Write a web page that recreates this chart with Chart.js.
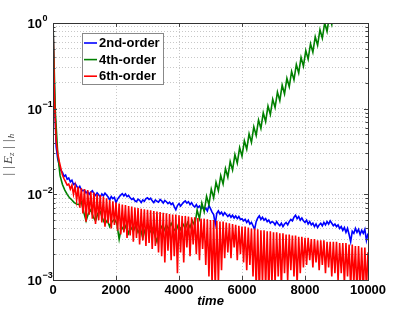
<!DOCTYPE html>
<html>
<head>
<meta charset="utf-8">
<script src="https://cdn.jsdelivr.net/npm/chart.js@4/dist/chart.umd.min.js"></script>
<style>
  html, body { margin: 0; padding: 0; background: #fff; }
  canvas { display: block; }
</style>
</head>
<body>
<canvas id="chart" width="407" height="316"></canvas>
<script>
// time axis: values are sampled every STEP_* time units starting at 0
const STEP_2ND = 50;
const STEP_4TH = 75;
const STEP_6TH = 50;

const seriesNames = ["2nd-order", "4th-order", "6th-order"];
const seriesColors = ["#0000ff", "#008000", "#ff0000"];

const err2nd = [
  1, 0.13, 0.036, 0.026, 0.022, 0.019, 0.018, 0.0162, 0.0168, 0.0150, 0.0155, 0.0140, 0.0146, 0.0130, 0.0134, 0.0125, 0.0117, 0.0124, 0.0113, 0.0110,
  0.0112, 0.0104, 0.0108, 0.0100, 0.0106, 0.0110, 0.0102, 0.0097, 0.0104, 0.0099, 0.0093, 0.0101, 0.0096, 0.0103, 0.0098, 0.0093, 0.0086, 0.0094, 0.0089, 0.0092,
  0.0080, 0.0088, 0.0093, 0.0098, 0.0102, 0.0096, 0.0101, 0.0094, 0.0097, 0.0091, 0.0087, 0.0090, 0.0084, 0.0082, 0.0088, 0.0085, 0.0080, 0.0086, 0.0083, 0.0089,
  0.0091, 0.0087, 0.0090, 0.0084, 0.0080, 0.0086, 0.0083, 0.0081, 0.0087, 0.0084, 0.0079, 0.0085, 0.0082, 0.0078, 0.0081, 0.0076, 0.0079, 0.0072, 0.0066, 0.0074,
  0.0078, 0.0073, 0.0077, 0.0081, 0.0084, 0.0079, 0.0082, 0.0076, 0.0080, 0.0074, 0.0071, 0.0076, 0.0070, 0.0073, 0.0068, 0.0071, 0.0066, 0.0069, 0.0064, 0.0074,
  0.0068, 0.0062, 0.0058, 0.0045, 0.0060, 0.0064, 0.0059, 0.0062, 0.0057, 0.0061, 0.0058, 0.0055, 0.0058, 0.0054, 0.0057, 0.0053, 0.0056, 0.0052, 0.0055, 0.0051,
  0.0052, 0.0049, 0.0051, 0.0047, 0.0050, 0.0045, 0.0047, 0.0043, 0.0039, 0.0048, 0.0053, 0.0056, 0.0051, 0.0054, 0.0050, 0.0052, 0.0048, 0.0050, 0.0046, 0.0048,
  0.0047, 0.0044, 0.0048, 0.0045, 0.0043, 0.0046, 0.0042, 0.0045, 0.0047, 0.0044, 0.0048, 0.0051, 0.0049, 0.0054, 0.0057, 0.0052, 0.0055, 0.0050, 0.0053, 0.0049,
  0.0047, 0.0050, 0.0045, 0.0048, 0.0044, 0.0046, 0.0042, 0.0045, 0.0041, 0.0044, 0.0046, 0.0043, 0.0047, 0.0044, 0.0048, 0.0045, 0.0049, 0.0046, 0.0043, 0.0045,
  0.0042, 0.0044, 0.0040, 0.0042, 0.0038, 0.0041, 0.0036, 0.0040, 0.0034, 0.0028, 0.0037, 0.0035, 0.0040, 0.0036, 0.0039, 0.0034, 0.0038, 0.0035, 0.0039, 0.0029,
  0.0035
];

const err4th = [
  1, 0.09, 0.03, 0.0165, 0.0130, 0.0112, 0.0100, 0.0091, 0.0086, 0.0080,
  0.0077, 0.0076, 0.0082, 0.0062, 0.0049, 0.0060, 0.0066, 0.0055, 0.0049, 0.0060,
  0.0063, 0.0052, 0.0045, 0.0050, 0.0042, 0.0048, 0.0051, 0.0046, 0.0030, 0.0042,
  0.0038, 0.0044, 0.0035, 0.0041, 0.0037, 0.0043, 0.0036, 0.0040, 0.0031, 0.0039,
  0.0042, 0.0036, 0.0040, 0.0034, 0.0028, 0.0037, 0.0042, 0.0038, 0.0044, 0.0039,
  0.0046, 0.0040, 0.0037, 0.0044, 0.0039, 0.0045, 0.0040, 0.0047, 0.0041, 0.0049,
  0.00432, 0.00654, 0.0052, 0.00789, 0.00627, 0.0095, 0.00756, 0.0115, 0.0091, 0.0138,
  0.0110, 0.0166, 0.0132, 0.0200, 0.0159, 0.0241, 0.0192, 0.0291, 0.0231, 0.0351,
  0.0279, 0.0422, 0.0336, 0.0509, 0.0404, 0.0613, 0.0488, 0.0738, 0.0587, 0.0891,
  0.0707, 0.107, 0.0853, 0.129, 0.103, 0.156, 0.124, 0.188, 0.149, 0.226,
  0.180, 0.272, 0.217, 0.328, 0.261, 0.396, 0.314, 0.476, 0.379, 0.573,
  0.456, 0.691, 0.550, 0.833, 0.663, 1.0, 0.798, 1.21, 0.96, 1.45,
  1.2
];

const err6th = [
  1, 0.12, 0.042, 0.030, 0.024, 0.020, 0.0168, 0.0152, 0.0140, 0.0128,
  0.0132, 0.0115, 0.0128, 0.0100, 0.0125, 0.0085, 0.0122, 0.0070, 0.0118, 0.0060,
  0.0115, 0.0048, 0.0112, 0.0058, 0.0108, 0.0052, 0.0105, 0.0045, 0.0100, 0.0050, 0.0098, 0.0047, 0.0094, 0.0042, 0.0090, 0.0046, 0.0086, 0.0040, 0.0083, 0.0044,
  0.0080, 0.0038, 0.0078, 0.0034, 0.0076, 0.0036, 0.0075, 0.0031, 0.0073, 0.0033, 0.0072, 0.0028, 0.0070, 0.0031, 0.0069, 0.0026, 0.0068, 0.0029, 0.0067, 0.0025,
  0.0066, 0.0027, 0.0065, 0.0023, 0.0064, 0.0025, 0.0063, 0.0021, 0.0062, 0.0019, 0.0061, 0.0016, 0.0060, 0.0022, 0.0059, 0.0017, 0.0058, 0.0019, 0.0058, 0.0012,
  0.0057, 0.0021, 0.0056, 0.0016, 0.0056, 0.0024, 0.0055, 0.0019, 0.0054, 0.0026, 0.0054, 0.0020, 0.0053, 0.0017, 0.0052, 0.0023, 0.0052, 0.0015, 0.0051, 0.0011,
  0.0050, 0.0009, 0.0050, 0.0008, 0.0049, 0.0009, 0.0048, 0.0013, 0.0048, 0.0018, 0.0047, 0.0021, 0.0046, 0.0018, 0.0045, 0.0024, 0.0044, 0.0017, 0.0043, 0.0020,
  0.0042, 0.0016, 0.0042, 0.0013, 0.0041, 0.0015, 0.0040, 0.0011, 0.0040, 0.0008, 0.0039, 0.0007, 0.0038, 0.0009, 0.0038, 0.0008, 0.0037, 0.0007, 0.0037, 0.0009,
  0.0036, 0.0009, 0.0036, 0.0011, 0.0035, 0.0008, 0.0035, 0.0012, 0.0034, 0.0010, 0.0034, 0.0013, 0.0033, 0.0011, 0.0033, 0.0009, 0.0032, 0.0012, 0.0032, 0.0014,
  0.0031, 0.0015, 0.0031, 0.0017, 0.0030, 0.0014, 0.0030, 0.0016, 0.0029, 0.0013, 0.0029, 0.0015, 0.0029, 0.0012, 0.0028, 0.0014, 0.0028, 0.0011, 0.0028, 0.0012,
  0.0028, 0.0010, 0.0027, 0.0012, 0.0027, 0.0009, 0.0027, 0.0011, 0.0026, 0.0008, 0.0026, 0.0009, 0.0025, 0.0007, 0.0025, 0.0008, 0.0024, 0.0007, 0.0024, 0.0008,
  0.0021
];

const xTicks = [0, 2000, 4000, 6000, 8000, 10000];
const yDecades = [-3, -2, -1, 0];

const FONT = "'Liberation Sans', Arial, Helvetica, sans-serif";
const SERIF = "'Liberation Serif', 'DejaVu Serif', serif";

const toPoints = (vals, step) => vals.map((v, i) => ({ x: i * step, y: v }));

// log grid: 1..9 x 10^d for each decade plus the top
const yGridValues = [];
yDecades.slice(0, -1).forEach(d => {
  for (let m = 1; m <= 9; m++) yGridValues.push(m * Math.pow(10, d));
});
yGridValues.push(Math.pow(10, yDecades[yDecades.length - 1]));

const decorations = {
  id: "decorations",
  afterDraw(chart) {
    const { ctx, chartArea: a, scales } = chart;
    const y = scales.y, x = scales.x;
    ctx.save();

    // inner tick marks
    ctx.strokeStyle = "#444";
    ctx.lineWidth = 1;
    ctx.beginPath();
    yGridValues.forEach(v => {
      const py = Math.round(y.getPixelForValue(v)) + 0.5;
      const len = Number.isInteger(Math.log10(v)) ? 4 : 2.5;
      ctx.moveTo(a.left, py); ctx.lineTo(a.left + len, py);
      ctx.moveTo(a.right, py); ctx.lineTo(a.right - len, py);
    });
    xTicks.forEach(v => {
      const px = Math.round(x.getPixelForValue(v)) + 0.5;
      ctx.moveTo(px, a.bottom); ctx.lineTo(px, a.bottom - 4);
      ctx.moveTo(px, a.top); ctx.lineTo(px, a.top + 4);
    });
    ctx.stroke();

    // frame
    ctx.strokeStyle = "#333";
    ctx.strokeRect(Math.round(a.left) + 0.5, Math.round(a.top) + 0.5, Math.round(a.right - a.left), Math.round(a.bottom - a.top));

    // y tick labels 10^n
    ctx.fillStyle = "#000";
    ctx.textBaseline = "middle";
    yDecades.forEach(d => {
      const py = y.getPixelForValue(Math.pow(10, d));
      ctx.font = "bold 13px " + FONT;
      ctx.textAlign = "right";
      ctx.fillText("10", 42, py + 1.5);
      ctx.font = "bold 9px " + FONT;
      ctx.textAlign = "left";
      ctx.fillText(d === 0 ? "0" : "\u2212" + (-d), 42.5, py - 4);
    });

    // y axis title ||E_z||_h
    ctx.translate(9, 155);
    ctx.rotate(-Math.PI / 2);
    const big = "italic 13px " + SERIF;
    const small = "italic 9px " + SERIF;
    const parts = [["| |", big, 0, 2], ["E", big, 0, 0], ["z", small, 3, 3], ["| |", big, 0, 1], ["h", small, 3, 0]];
    let total = 0;
    parts.forEach(p => { ctx.font = p[1]; total += ctx.measureText(p[0]).width + p[3]; });
    let cx = -total / 2;
    ctx.fillStyle = "#444";
    ctx.textAlign = "left";
    parts.forEach(p => {
      ctx.font = p[1];
      ctx.fillText(p[0], cx, p[2]);
      cx += ctx.measureText(p[0]).width + p[3];
    });
    ctx.restore();

    // legend box
    ctx.save();
    const lx = 82, ly = 33, lw = 81, lh = 51;
    ctx.fillStyle = "#fff";
    ctx.fillRect(lx, ly, lw, lh);
    ctx.strokeStyle = "#888";
    ctx.lineWidth = 1;
    ctx.strokeRect(lx + 0.5, ly + 0.5, lw, lh);
    ctx.font = "bold 13px " + FONT;
    ctx.textBaseline = "middle";
    ctx.textAlign = "left";
    seriesNames.forEach((name, i) => {
      const ry = ly + 10 + i * 16.6;
      ctx.strokeStyle = seriesColors[i];
      ctx.lineWidth = 1.6;
      ctx.beginPath();
      ctx.moveTo(lx + 2, ry); ctx.lineTo(lx + 15, ry);
      ctx.stroke();
      ctx.fillStyle = "#000";
      ctx.fillText(name, lx + 17, ry + 0.5);
    });
    ctx.restore();
  }
};

new Chart(document.getElementById("chart"), {
  type: "line",
  data: {
    datasets: [
      { label: seriesNames[0], data: toPoints(err2nd, STEP_2ND), borderColor: seriesColors[0], order: 2 },
      { label: seriesNames[1], data: toPoints(err4th, STEP_4TH), borderColor: seriesColors[1], order: 1 },
      { label: seriesNames[2], data: toPoints(err6th, STEP_6TH), borderColor: seriesColors[2], order: 0 }
    ]
  },
  options: {
    responsive: false,
    animation: false,
    devicePixelRatio: 1,
    layout: { padding: { left: 0, right: 39, top: 23, bottom: 0 } },
    elements: {
      line: { borderWidth: 1.6, tension: 0, fill: false },
      point: { radius: 0 }
    },
    plugins: { legend: { display: false }, tooltip: { enabled: false } },
    scales: {
      x: {
        type: "linear",
        min: 0,
        max: 10000,
        afterBuildTicks: s => { s.ticks = xTicks.map(v => ({ value: v })); },
        afterFit: s => { s.height = 36; },
        ticks: { color: "#000", font: { family: FONT, weight: "bold", size: 13 }, padding: 3, maxRotation: 0, autoSkip: false, callback: v => String(v) },
        grid: { color: "#c8c8c8", drawTicks: false },
        border: { display: false, dash: [1, 2] },
        title: { display: true, text: "time", color: "#000", font: { family: FONT, weight: "bold", style: "italic", size: 13 }, padding: { top: 0, bottom: 7 } }
      },
      y: {
        type: "logarithmic",
        min: 0.001,
        max: 1,
        afterBuildTicks: s => { s.ticks = yGridValues.map(v => ({ value: v })); },
        afterFit: s => { s.width = 53; },
        ticks: { display: false },
        grid: { color: "#c8c8c8", drawTicks: false },
        border: { display: false, dash: [1, 2] }
      }
    }
  },
  plugins: [decorations]
});
</script>
</body>
</html>
